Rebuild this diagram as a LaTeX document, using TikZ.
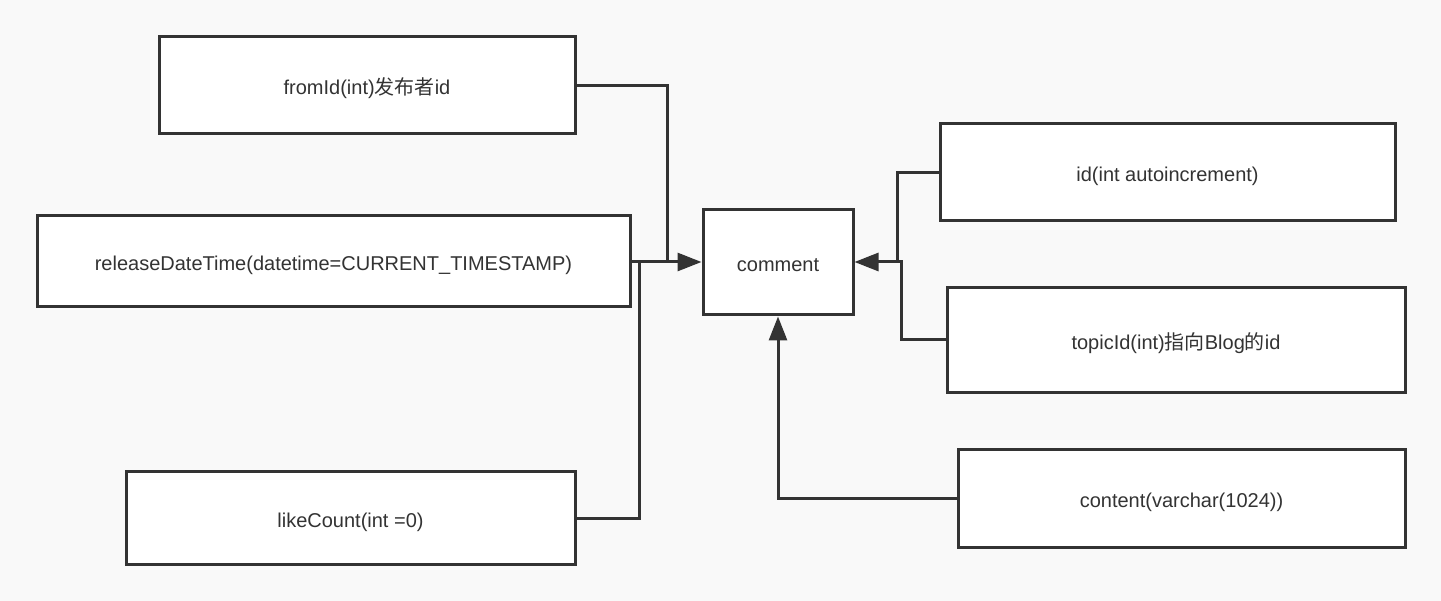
\documentclass[tikz,border=0pt]{standalone}
\usepackage{fontspec}
\setmainfont{Liberation Sans}
\newfontfamily\cjk{Noto Sans CJK SC}
\usetikzlibrary{arrows.meta}
\definecolor{ink}{HTML}{333333}
\definecolor{paper}{HTML}{F9F9F9}
\tikzset{
  field/.style={draw=ink, line width=3pt, fill=white, minimum height=#1, inner sep=0pt,
    text height=20pt, text depth=2pt,
    text=ink, font=\fontsize{20}{24}\selectfont},
  link/.style={draw=ink, line width=3pt},
  arrowlink/.style={link, -{Triangle[length=24pt,width=18pt]}},
}
\begin{document}
\begin{tikzpicture}[x=1pt,y=-1pt]
  \fill[paper] (0,0) rectangle (1441,601);
  \useasboundingbox (0,0) rectangle (1441,601);

  % the table and its fields
  \node[field=105pt, minimum width=150pt] (comment) at (778,262.5) {comment};
  \node[field=97pt, minimum width=416pt] (from) at (367,85.5) {fromId(int){\cjk 发布者}id};
  \node[field=91pt, minimum width=593pt] (release) at (333.5,261.5) {releaseDateTime(datetime=CURRENT\_TIMESTAMP)};
  \node[field=92pt, minimum width=449pt] (like) at (350.5,518) {likeCount(int =0)};
  \node[field=97pt, minimum width=455pt] (id) at (1167.5,172.5) {id(int autoincrement)};
  \node[field=105pt, minimum width=458pt] (topic) at (1176,340.5) {topicId(int){\cjk 指向}Blog{\cjk 的}id};
  \node[field=97pt, minimum width=447pt] (content) at (1181.5,498.5) {content(varchar(1024))};

  % connectors into the table
  \draw[arrowlink] (release.east |- 0,262) -- (comment.west |- 0,262);
  \draw[link] (from.east |- 0,86) -| (667,262);
  \draw[link] (like.east |- 0,518) -| (639,262);
  \draw[arrowlink] (id.west |- 0,173) -| (897,262) -- (comment.east |- 0,262);
  \draw[link] (topic.west |- 0,340) -| (901,262) -- (897,262);
  \draw[arrowlink] (content.west |- 0,498) -| (comment.south);
\end{tikzpicture}
\end{document}
